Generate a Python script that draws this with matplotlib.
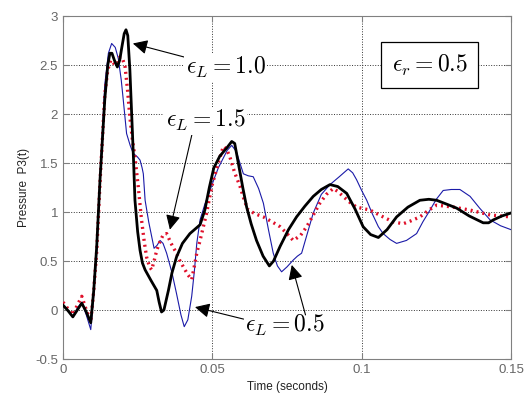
import matplotlib
matplotlib.use("Agg")
import matplotlib.pyplot as plt

# curve samples: time (s), pressure
t_black = [0, 0.0015, 0.0033, 0.0048, 0.0063, 0.0078, 0.0093, 0.0103, 0.0113, 0.0124,
           0.0140, 0.0150, 0.0157, 0.0164, 0.0172, 0.0182, 0.0190, 0.0197, 0.0205, 0.0211,
           0.0217, 0.0224, 0.0230, 0.0236, 0.0241, 0.0250, 0.0258, 0.0266, 0.0275, 0.0295,
           0.0314, 0.0322, 0.0330, 0.0338, 0.0353, 0.0365, 0.0380, 0.0400, 0.0425, 0.0459,
           0.0475, 0.0490, 0.0505, 0.0525, 0.0550, 0.0565, 0.0575, 0.0590, 0.0602, 0.0615,
           0.0630, 0.0648, 0.0670, 0.0691, 0.0705, 0.0727, 0.0755, 0.0782, 0.0810, 0.0838,
           0.0865, 0.0894, 0.0920, 0.0950, 0.0978, 0.1005, 0.1030, 0.1056, 0.1085, 0.1117,
           0.1155, 0.1195, 0.1225, 0.1251, 0.1285, 0.1318, 0.1360, 0.1407, 0.1425, 0.1441,
           0.1470, 0.1500]
p_black = [0.05, 0.00, -0.07, 0.00, 0.07, -0.02, -0.13, 0.20, 0.65, 1.33,
           2.15, 2.50, 2.62, 2.62, 2.55, 2.48, 2.55, 2.68, 2.82, 2.86,
           2.80, 2.45, 2.00, 1.55, 1.12, 0.80, 0.61, 0.48, 0.41, 0.30,
           0.20, 0.08, -0.02, 0.00, 0.20, 0.38, 0.54, 0.68, 0.78, 0.87,
           1.02, 1.25, 1.45, 1.57, 1.66, 1.72, 1.70, 1.45, 1.25, 1.05,
           0.88, 0.71, 0.55, 0.45, 0.50, 0.65, 0.82, 0.95, 1.06, 1.16,
           1.23, 1.28, 1.26, 1.19, 1.03, 0.85, 0.77, 0.74, 0.82, 0.95,
           1.05, 1.12, 1.13, 1.12, 1.08, 1.04, 0.96, 0.89, 0.89, 0.92,
           0.96, 0.99]

t_blue = [0, 0.0015, 0.0033, 0.0048, 0.0063, 0.0078, 0.0093, 0.0103, 0.0113, 0.0124,
          0.0140, 0.0152, 0.0163, 0.0175, 0.0185, 0.0195, 0.0202, 0.0213, 0.0225, 0.0235,
          0.0250, 0.0258, 0.0265, 0.0269, 0.0275, 0.0287, 0.0297, 0.0305, 0.0315, 0.0325,
          0.0335, 0.0347, 0.0365, 0.0380, 0.0395, 0.0406, 0.0418, 0.0431, 0.0440, 0.0448,
          0.0459, 0.0475, 0.0490, 0.0505, 0.0520, 0.0550, 0.0565, 0.0580, 0.0604, 0.0620,
          0.0637, 0.0655, 0.0671, 0.0688, 0.0704, 0.0718, 0.0732, 0.0750, 0.0771, 0.0785,
          0.0799, 0.0818, 0.0838, 0.0865, 0.0894, 0.0925, 0.0955, 0.0970, 0.0983, 0.1000,
          0.1017, 0.1036, 0.1056, 0.1072, 0.1095, 0.1117, 0.1150, 0.1184, 0.1205, 0.1229,
          0.1250, 0.1273, 0.1300, 0.1329, 0.1363, 0.1395, 0.1430, 0.1465, 0.1500]
p_blue = [0.05, 0.00, -0.07, 0.02, 0.08, -0.05, -0.20, 0.15, 0.60, 1.35,
          2.30, 2.62, 2.72, 2.68, 2.57, 2.35, 2.14, 1.80, 1.68, 1.60,
          1.56, 1.53, 1.45, 1.39, 1.12, 0.90, 0.75, 0.63, 0.66, 0.71,
          0.68, 0.58, 0.38, 0.17, -0.05, -0.17, -0.10, 0.14, 0.40, 0.68,
          0.92, 1.08, 1.20, 1.33, 1.45, 1.63, 1.68, 1.62, 1.39, 1.37,
          1.36, 1.24, 1.09, 0.82, 0.58, 0.45, 0.39, 0.44, 0.51, 0.55,
          0.58, 0.78, 0.99, 1.18, 1.28, 1.36, 1.44, 1.40, 1.33, 1.22,
          1.12, 0.98, 0.85, 0.78, 0.72, 0.68, 0.71, 0.78, 0.90, 1.02,
          1.13, 1.22, 1.23, 1.23, 1.16, 1.04, 0.92, 0.86, 0.82]

t_red = [0, 0.0015, 0.0033, 0.0048, 0.0063, 0.0078, 0.0093, 0.0103, 0.0113, 0.0124,
         0.0140, 0.0150, 0.0160, 0.0175, 0.0183, 0.0190, 0.0198, 0.0208, 0.0216, 0.0224,
         0.0232, 0.0241, 0.0252, 0.0263, 0.0272, 0.0280, 0.0290, 0.0297, 0.0305, 0.0314,
         0.0325, 0.0336, 0.0347, 0.0362, 0.0380, 0.0392, 0.0403, 0.0418, 0.0431, 0.0440,
         0.0448, 0.0459, 0.0470, 0.0481, 0.0498, 0.0520, 0.0537, 0.0548, 0.0559, 0.0575,
         0.0593, 0.0607, 0.0620, 0.0645, 0.0671, 0.0700, 0.0727, 0.0750, 0.0771, 0.0795,
         0.0816, 0.0840, 0.0860, 0.0882, 0.0905, 0.0920, 0.0938, 0.0960, 0.0983, 0.1028,
         0.1072, 0.1105, 0.1139, 0.1165, 0.1195, 0.1225, 0.1251, 0.1280, 0.1307, 0.1363,
         0.1430, 0.1500]
p_red = [0.08, 0.02, -0.05, 0.05, 0.14, 0.00, -0.12, 0.20, 0.60, 1.30,
         2.20, 2.45, 2.55, 2.50, 2.52, 2.58, 2.58, 2.48, 2.25, 1.97,
         1.75, 1.56, 1.26, 0.92, 0.70, 0.54, 0.44, 0.41, 0.50, 0.61,
         0.70, 0.77, 0.78, 0.68, 0.58, 0.50, 0.44, 0.36, 0.31, 0.45,
         0.58, 0.71, 0.85, 0.99, 1.26, 1.50, 1.67, 1.64, 1.56, 1.40,
         1.26, 1.12, 1.02, 0.98, 0.95, 0.90, 0.85, 0.78, 0.71, 0.76,
         0.85, 0.98, 1.09, 1.18, 1.24, 1.21, 1.16, 1.10, 1.05, 1.02,
         0.95, 0.90, 0.88, 0.91, 0.95, 1.02, 1.07, 1.06, 1.05, 1.02,
         0.97, 0.95]

x_ticks = [0, 0.05, 0.1, 0.15]
x_labels = ["0", "0.05", "0.1", "0.15"]
y_ticks = [-0.5, 0, 0.5, 1, 1.5, 2, 2.5, 3]
y_labels = ["-0.5", "0", "0.5", "1", "1.5", "2", "2.5", "3"]

plt.rcParams["mathtext.fontset"] = "cm"
plt.rcParams["font.family"] = ["Liberation Sans", "DejaVu Sans"]

fig = plt.figure(figsize=(5.31, 4.01), dpi=100)
ax = fig.add_axes([0.1186, 0.1047, 0.8437, 0.8553])

ax.plot(t_blue, p_blue, color="#1a1aa8", linewidth=0.8, zorder=3)
ax.plot(t_red, p_red, color="#e0102a", linewidth=2.4, linestyle=(0, (0.6, 1.2)), zorder=4)
ax.plot(t_black, p_black, color="black", linewidth=2.0, zorder=5)

ax.set_xlim(0, 0.15)
ax.set_ylim(-0.5, 3)
ax.set_xticks(x_ticks)
ax.set_xticklabels(x_labels)
ax.set_yticks(y_ticks)
ax.set_yticklabels(y_labels)
ax.tick_params(direction="in", length=4, colors="#808080", labelcolor="#666666",
               labelsize=9.5, top=True, right=True)
ax.grid(True, color="#333333", linestyle=":", linewidth=0.7, zorder=1)
for s in ax.spines.values():
    s.set_color("#808080")

ax.set_xlabel("Time (seconds)", fontsize=8.5, color="#222222", labelpad=4)
ax.set_ylabel("Pressure  P3(t)", fontsize=8.5, color="#222222", labelpad=4)

arrow = dict(arrowstyle="-|>", color="black", lw=0.8, mutation_scale=22,
             shrinkA=0, shrinkB=0)
text_box = dict(facecolor="white", edgecolor="none", pad=1)

ax.annotate(r"$\epsilon_L = 1.0$", xy=(0.0234, 2.72), xytext=(0.0545, 2.47),
            fontsize=17, ha="center", va="center", bbox=text_box, zorder=6,
            arrowprops=arrow)
ax.annotate(r"$\epsilon_L = 1.5$", xy=(0.0358, 0.82), xytext=(0.0478, 1.93),
            fontsize=17, ha="center", va="center", bbox=text_box, zorder=6,
            arrowprops=dict(arrow, relpos=(0.33, 0.0)))
ax.annotate(r"$\epsilon_L = 0.5$", xy=(0.0442, 0.03), xytext=(0.0743, -0.16),
            fontsize=17, ha="center", va="center", bbox=text_box, zorder=6,
            arrowprops=dict(arrow, relpos=(0.0, 0.75)))
ax.annotate("", xy=(0.0766, 0.46), xytext=(0.0812, -0.05),
            arrowprops=arrow, zorder=6)

ax.text(0.1228, 2.5, r"$\epsilon_r = 0.5$", fontsize=17, ha="center", va="center",
        zorder=6, bbox=dict(boxstyle="square,pad=0.45", facecolor="white",
                            edgecolor="black", linewidth=0.9))

fig.savefig("out.png", dpi=100)
